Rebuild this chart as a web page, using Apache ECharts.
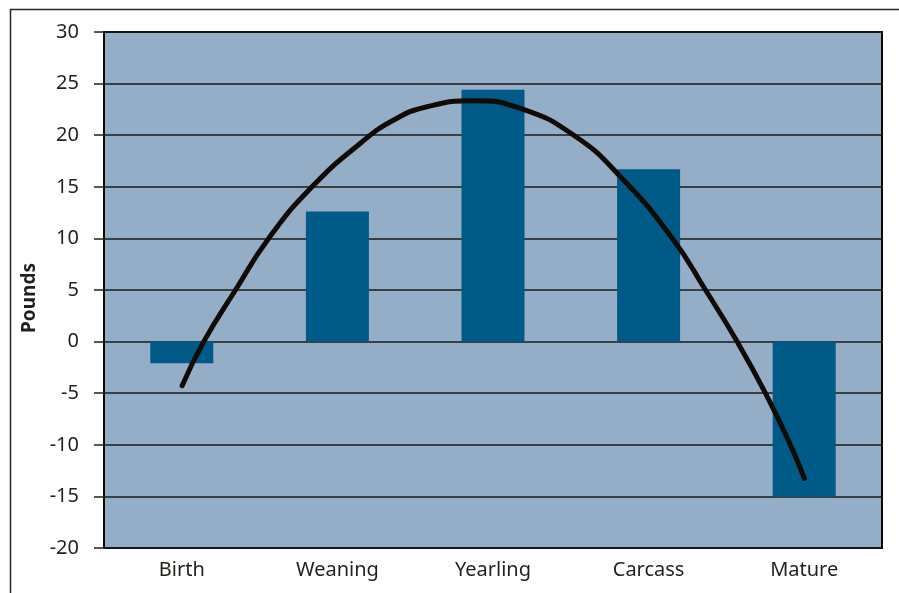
<!DOCTYPE html>
<html>
<head>
<meta charset="utf-8">
<script src="https://cdn.jsdelivr.net/npm/echarts@6/dist/echarts.min.js"></script>
<style>html,body{margin:0;padding:0;background:#fff}#c{width:899px;height:593px}</style>
</head>
<body>
<div id="c"></div>
<script>
var categories = ['Birth', 'Weaning', 'Yearling', 'Carcass', 'Mature'];
var barValues = [-2.1, 12.6, 24.4, 16.7, -15.0];
// trend curve: [position along category band (0..5), pounds]
var curveX = [0.502, 0.641, 0.845, 1.058, 1.337, 1.648, 1.862, 2.076, 2.376, 2.676, 3.019, 3.319, 3.653, 3.866, 4.069, 4.251, 4.411, 4.501];
var curveY = [-4.27, 0, 5, 10, 15, 19.22, 21.47, 22.76, 23.34, 22.6, 20.0, 15.98, 10, 5, 0, -5, -10, -13.25];
var yTicks = { min: -20, max: 30, interval: 5 };
var yName = 'Pounds';

var chart = echarts.init(document.getElementById('c'), null, { renderer: 'canvas' });
var font = '"Noto Sans", "Open Sans", sans-serif';
var curveData = curveX.map(function (x, i) { return [x, curveY[i]]; });

chart.setOption({
  animation: false,
  grid: {
    left: 104, top: 32, right: 17, bottom: 45,
    show: true, backgroundColor: '#94aec8', borderColor: '#0d0805', borderWidth: 2
  },
  graphic: [
    { type: 'line', shape: { x1: 10, y1: 9.5, x2: 899, y2: 9.5 }, style: { stroke: '#2a2622', lineWidth: 1.5 } },
    { type: 'line', shape: { x1: 10.5, y1: 9, x2: 10.5, y2: 593 }, style: { stroke: '#2a2622', lineWidth: 1.5 } },
    { type: 'text', x: 30, y: 298, rotation: Math.PI / 2,
      style: { text: yName, fill: '#231f1b', font: 'bold 19px "Noto Sans", sans-serif', align: 'center', verticalAlign: 'middle' } }
  ],
  xAxis: [
    {
      type: 'category', data: categories, position: 'bottom',
      axisLine: { show: false }, axisTick: { show: false },
      axisLabel: { color: '#231f1b', fontSize: 20, fontFamily: font, margin: 12 }
    },
    {
      type: 'value', min: 0, max: 5, show: false
    }
  ],
  yAxis: {
    type: 'value', min: yTicks.min, max: yTicks.max, interval: yTicks.interval,
    axisLine: { show: false },
    axisTick: { show: true, length: 10, lineStyle: { color: '#231f1b', width: 1.5 } },
    axisLabel: { color: '#231f1b', fontSize: 20, fontFamily: font, margin: 25 },
    splitLine: { show: true, lineStyle: { color: '#1a1a1a', width: 1.5 } }
  },
  series: [
    {
      type: 'bar', data: barValues, xAxisIndex: 0, barWidth: 63,
      itemStyle: { color: '#005a87' }
    },
    {
      type: 'line', data: curveData, xAxisIndex: 1, smooth: 0.5, symbol: 'none',
      lineStyle: { color: '#120a04', width: 5, cap: 'round' }, z: 5
    }
  ]
});
</script>
</body>
</html>
